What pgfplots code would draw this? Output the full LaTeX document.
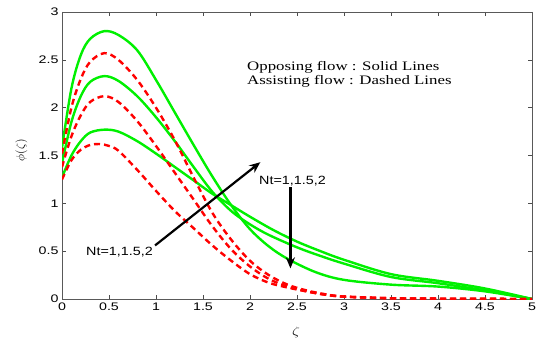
\documentclass[border=0pt]{standalone}
\usepackage{pgfplots}
\pgfplotsset{compat=1.18}
\usepackage{fontspec}
\setmainfont{Liberation Serif}
\newfontfamily\arial{Liberation Sans}
\usetikzlibrary{arrows.meta}
\definecolor{lgreen}{RGB}{0,240,0}
\definecolor{lred}{RGB}{255,0,0}
\begin{document}
\begin{tikzpicture}
\useasboundingbox (-62bp,-40bp) rectangle (474bp,299bp);
\begin{axis}[
  at={(0,0)}, anchor=south west,
  scale only axis, width=470bp, height=287bp,
  xmin=0, xmax=5, ymin=0, ymax=3,
  xtick={0,0.5,...,5}, ytick={0,0.5,...,3},
  tick align=inside, major tick length=4bp,
  axis line style={gray!70!black, line width=0.8bp},
  tick style={gray!60!black, line width=0.6bp},
  xticklabel={\scalebox{1.3}[1]{\pgfmathprintnumber[assume math mode=true]{\tick}}},
  yticklabel={\scalebox{1.3}[1]{\pgfmathprintnumber[assume math mode=true]{\tick}}},
  ticklabel style={font=\arial\fontsize{11}{13}\selectfont, text=black},
  clip mode=individual,
  every axis plot/.append style={smooth, tension=0.55, line width=2.4bp},
]
% Opposing flow (solid green)
\addplot[lgreen] coordinates {(0,1.27) (0.1,1.5) (0.2,1.65) (0.3,1.74) (0.45,1.77) (0.6,1.75) (0.8,1.65) (1.0,1.52) (1.2,1.38) (1.4,1.24) (1.6,1.1) (1.8,0.98) (2.0,0.86) (2.25,0.72) (2.5,0.6) (2.75,0.5) (3.0,0.41) (3.5,0.26) (4.0,0.19) (4.5,0.11) (5,0)};
\addplot[lgreen] coordinates {(0,1.42) (0.1,1.85) (0.2,2.12) (0.3,2.27) (0.45,2.33) (0.6,2.28) (0.8,2.12) (1.0,1.9) (1.2,1.65) (1.4,1.38) (1.6,1.12) (1.8,0.92) (2.0,0.78) (2.2,0.67) (2.5,0.54) (2.75,0.45) (3.0,0.37) (3.5,0.23) (4.0,0.165) (4.5,0.09) (5,0)};
\addplot[lgreen] coordinates {(0,1.58) (0.1,2.2) (0.2,2.55) (0.3,2.72) (0.45,2.8) (0.6,2.76) (0.8,2.6) (1.0,2.29) (1.2,1.95) (1.4,1.61) (1.6,1.28) (1.8,0.98) (2.0,0.73) (2.2,0.55) (2.4,0.42) (2.7,0.28) (3.0,0.2) (3.5,0.15) (4.0,0.13) (4.5,0.08) (5,0)};
% Assisting flow (dashed red)
\addplot[lred, dash pattern=on 6bp off 4bp] coordinates {(0,1.25) (0.1,1.45) (0.2,1.56) (0.3,1.61) (0.4,1.62) (0.5,1.6) (0.6,1.55) (0.8,1.35) (1.0,1.13) (1.2,0.92) (1.4,0.74) (1.6,0.56) (1.8,0.4) (2.0,0.26) (2.2,0.17) (2.4,0.12) (2.6,0.08) (2.8,0.045) (3.0,0.025) (3.5,0.008) (4,0.003) (4.5,0.001) (5,0)};
\addplot[lred, dash pattern=on 6bp off 4bp] coordinates {(0,1.38) (0.1,1.7) (0.2,1.92) (0.3,2.06) (0.45,2.12) (0.6,2.06) (0.8,1.86) (1.0,1.6) (1.2,1.32) (1.4,1.04) (1.6,0.76) (1.8,0.52) (2.0,0.34) (2.2,0.21) (2.4,0.13) (2.6,0.08) (2.8,0.045) (3.0,0.025) (3.5,0.008) (4,0.003) (4.5,0.001) (5,0)};
\addplot[lred, dash pattern=on 6bp off 4bp] coordinates {(0,1.52) (0.1,2.0) (0.2,2.3) (0.3,2.48) (0.45,2.57) (0.6,2.5) (0.8,2.29) (1.0,2.0) (1.2,1.66) (1.4,1.27) (1.6,0.9) (1.8,0.62) (2.0,0.4) (2.2,0.25) (2.4,0.15) (2.6,0.09) (2.8,0.05) (3.0,0.025) (3.5,0.008) (4,0.003) (4.5,0.001) (5,0)};
% annotations
\node[anchor=base west, inner sep=0pt, font=\fontsize{13}{15}\selectfont] at (axis cs:1.968,2.393) {\scalebox{1.3}[1]{Opposing flow : Solid Lines}};
\node[anchor=base west, inner sep=0pt, font=\fontsize{13}{15}\selectfont] at (axis cs:1.968,2.247) {\scalebox{1.3}[1]{Assisting flow : Dashed Lines}};
\node[anchor=west, inner sep=0pt, font=\arial\fontsize{12}{14}\selectfont] at (axis cs:0.255,0.486) {\scalebox{1.2}[1]{Nt=1,1.5,2}};
\node[anchor=west, inner sep=0pt, font=\arial\fontsize{12}{14}\selectfont] at (axis cs:2.096,1.228) {\scalebox{1.2}[1]{Nt=1,1.5,2}};
\draw[line width=2.2bp, -{Stealth[length=11bp,width=9bp]}] (axis cs:0.99,0.56) -- (axis cs:2.11,1.43);
\draw[line width=2.2bp, -{Stealth[length=11bp,width=9bp]}] (axis cs:2.43,1.17) -- (axis cs:2.43,0.32);
\node[font=\fontsize{12}{14}\selectfont] at (axis cs:2.49,-0.35) {\scalebox{1.3}[1]{$\zeta$}};
\node[rotate=90, font=\fontsize{12}{14}\selectfont] at (axis cs:-0.431,1.557) {$\phi(\zeta)$};
\end{axis}
\end{tikzpicture}
\end{document}
